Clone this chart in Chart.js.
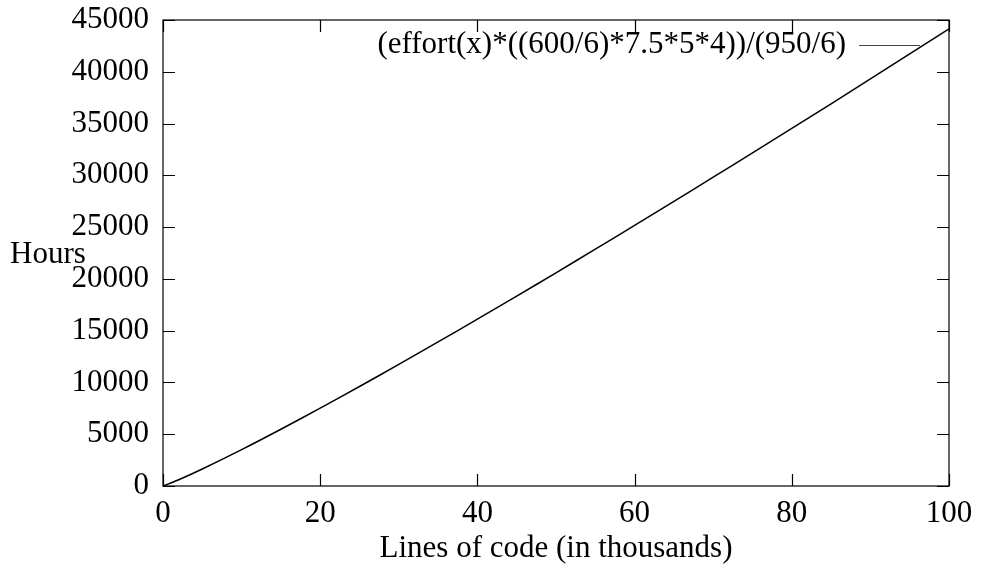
<!DOCTYPE html>
<html>
<head>
<meta charset="utf-8">
<script src="https://cdn.jsdelivr.net/npm/chart.js@4/dist/chart.umd.min.js"></script>
<style>
  html, body { margin: 0; padding: 0; background: #fff; }
  #wrap { width: 982px; height: 567px; }
</style>
</head>
<body>
<div id="wrap"><canvas id="grafico" width="982" height="567"></canvas></div>
<script>
// data
const linhasCodigo = [0, 2, 5, 10, 15, 20, 25, 30, 35, 40, 45, 50, 55, 60, 65, 70, 75, 80, 85, 90, 95, 100];
const horas = [0, 600, 1640, 3510, 5480, 7520, 9610, 11740, 13910, 16110, 18330, 20590, 22870, 25170, 27480, 29820, 32170, 34530, 36900, 39320, 41720, 44140];
const legendaSerie = "(effort(x)*((600/6)*7.5*5*4))/(950/6)";
const tituloX = "Lines of code (in thousands)";
const tituloY = "Hours";

const fonte = "'Liberation Serif', 'DejaVu Serif', serif";
const tamFonte = 31;

// frame, inward ticks, legend and y title (gnuplot style)
const pluginMoldura = {
  id: "moldura",
  afterDraw(chart) {
    const { ctx, chartArea: a, scales } = chart;
    ctx.save();
    ctx.strokeStyle = "#000";
    ctx.lineWidth = 1.2;
    ctx.strokeRect(a.left, a.top, a.right - a.left, a.bottom - a.top);

    const tam = 12;
    ctx.beginPath();
    scales.x.ticks.forEach(t => {
      const px = Math.round(scales.x.getPixelForValue(t.value)) + 0.5;
      ctx.moveTo(px, a.bottom); ctx.lineTo(px, a.bottom - tam);
      ctx.moveTo(px, a.top); ctx.lineTo(px, a.top + tam);
    });
    scales.y.ticks.forEach(t => {
      const py = Math.round(scales.y.getPixelForValue(t.value)) + 0.5;
      ctx.moveTo(a.left, py); ctx.lineTo(a.left + tam, py);
      ctx.moveTo(a.right, py); ctx.lineTo(a.right - tam, py);
    });
    ctx.stroke();

    // legend
    ctx.font = tamFonte + "px " + fonte;
    ctx.fillStyle = "#000";
    ctx.textAlign = "right";
    ctx.textBaseline = "middle";
    const yLeg = 45;
    ctx.fillText(legendaSerie, 846, yLeg);
    ctx.beginPath();
    ctx.lineWidth = 1;
    ctx.strokeStyle = "#444";
    ctx.moveTo(859, yLeg + 0.5);
    ctx.lineTo(920, yLeg + 0.5);
    ctx.stroke();

    // y title (horizontal)
    ctx.textAlign = "left";
    ctx.fillText(tituloY, 10, 255);
    ctx.restore();
  }
};

new Chart(document.getElementById("grafico").getContext("2d"), {
  type: "line",
  data: {
    datasets: [{
      label: legendaSerie,
      data: linhasCodigo.map((x, i) => ({ x: x, y: horas[i] })),
      borderColor: "#000",
      borderWidth: 1.5,
      pointRadius: 0,
      tension: 0.3,
      fill: false
    }]
  },
  options: {
    responsive: false,
    animation: false,
    layout: { padding: { top: 20, right: 33, left: 0, bottom: 0 } },
    plugins: { legend: { display: false }, tooltip: { enabled: false } },
    scales: {
      x: {
        type: "linear",
        min: 0, max: 100,
        ticks: { stepSize: 20, color: "#000", padding: 9, maxRotation: 0,
                 font: { family: fonte, size: tamFonte },
                 callback: v => String(v) },
        grid: { display: false, drawTicks: false },
        border: { display: false },
        title: { display: true, text: tituloX, color: "#000", padding: { top: 0, bottom: 0 },
                 font: { family: fonte, size: tamFonte } },
        afterFit(s) { s.height = 81; s.paddingLeft = 0; s.paddingRight = 0; }
      },
      y: {
        min: 0, max: 45000,
        ticks: { stepSize: 5000, color: "#000", padding: 14,
                 font: { family: fonte, size: tamFonte },
                 callback: v => String(v) },
        grid: { display: false, drawTicks: false },
        border: { display: false },
        afterFit(s) { s.width = 163; s.paddingTop = 0; s.paddingBottom = 0; }
      }
    }
  },
  plugins: [pluginMoldura]
});
</script>
</body>
</html>
